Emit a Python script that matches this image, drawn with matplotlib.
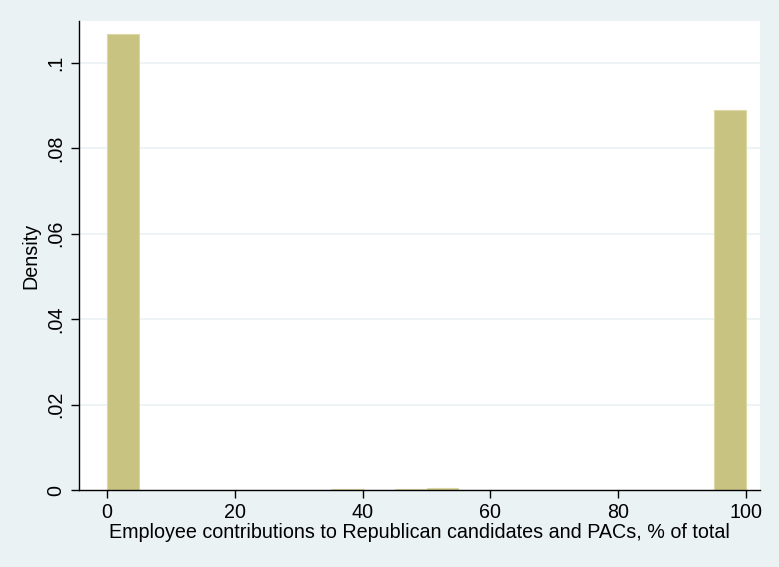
import matplotlib
matplotlib.use("Agg")
import matplotlib.pyplot as plt

# histogram bins (width 5) and density heights
bin_left = [0, 5, 10, 15, 20, 25, 30, 35, 40, 45, 50, 55, 60, 65, 70, 75, 80, 85, 90, 95]
density = [0.1068, 0.0001, 0.0001, 0.0001, 0.0001, 0.0001, 0.0001, 0.0002, 0.0001, 0.0002,
           0.0004, 0.0001, 0.0001, 0.0001, 0.0001, 0.0001, 0.0001, 0.0001, 0.0001, 0.0890]
bin_width = 5

xticks = [0, 20, 40, 60, 80, 100]
yticks = [0, 0.02, 0.04, 0.06, 0.08, 0.1]
ytick_labels = ["0", ".02", ".04", ".06", ".08", ".1"]

plt.rcParams["font.family"] = ["Liberation Sans", "DejaVu Sans"]

bg = "#eaf2f3"
fig = plt.figure(figsize=(7.79, 5.67), dpi=100, facecolor=bg)
ax = fig.add_axes([0.1014, 0.1358, 0.8742, 0.8272])
ax.set_facecolor("white")

ax.bar(bin_left, density, width=bin_width, align="edge",
       color="#c9c382", edgecolor="#dcd8a6", linewidth=0.8, zorder=2)

ax.set_xlim(-4.4, 102.2)
ax.set_ylim(0, 0.1098)
ax.set_xticks(xticks)
ax.set_yticks(yticks)
ax.set_yticklabels(ytick_labels, rotation=90, va="center")
ax.tick_params(axis="both", direction="out", length=6, width=1, labelsize=14.2,
               color="black")
ax.tick_params(axis="y", pad=4)
ax.tick_params(axis="x", pad=3)

for y in yticks[1:]:
    ax.axhline(y, color=bg, linewidth=1.2, zorder=1)

for side in ("top", "right"):
    ax.spines[side].set_visible(False)
for side in ("left", "bottom"):
    ax.spines[side].set_linewidth(1.0)
    ax.spines[side].set_color("black")

ax.set_ylabel("Density", fontsize=14.2, labelpad=4)
ax.set_xlabel("Employee contributions to Republican candidates and PACs, % of total",
              fontsize=14.2, labelpad=1)

fig.savefig("out.png", dpi=100, facecolor=bg)
